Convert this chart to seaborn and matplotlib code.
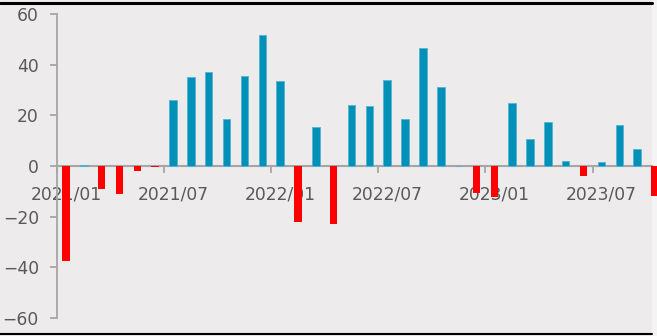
import matplotlib
matplotlib.use("Agg")
import matplotlib.pyplot as plt
from matplotlib.lines import Line2D
from matplotlib.patches import Rectangle
import numpy as np
import pandas as pd
import seaborn as sns

# Monthly values, 2021/01 - 2023/10
months = [
    "2021/01", "2021/02", "2021/03", "2021/04", "2021/05", "2021/06",
    "2021/07", "2021/08", "2021/09", "2021/10", "2021/11", "2021/12",
    "2022/01", "2022/02", "2022/03", "2022/04", "2022/05", "2022/06",
    "2022/07", "2022/08", "2022/09", "2022/10", "2022/11", "2022/12",
    "2023/01", "2023/02", "2023/03", "2023/04", "2023/05", "2023/06",
    "2023/07", "2023/08", "2023/09", "2023/10",
]
values = [
    -37.4, 0.5, -8.9, -11.2, -1.8, -0.5,
    26.1, 35.2, 37.0, 18.6, 35.7, 51.9,
    33.7, -22.3, 15.3, -22.7, 24.1, 23.5,
    34.0, 18.7, 46.6, 31.3, 0.0, -10.7,
    -12.4, 24.9, 10.7, 17.4, 1.8, -4.1,
    1.7, 16.2, 6.8, -12.0,
]
y_ticks = [-60, -40, -20, 0, 20, 40, 60]

BLUE = "#0090B8"
RED = "#FF0000"
BG = "#EDEBEC"
AXIS = "#A6A6A6"
TEXT = "#595959"

df = pd.DataFrame({"month": months, "value": values})
df["sign"] = np.where(df["value"] >= 0, "up", "down")

sns.set_theme(style="white")
plt.rcParams["font.family"] = ["DejaVu Sans"]

W, H = 657, 336
fig = plt.figure(figsize=(W / 100, H / 100), dpi=100, facecolor=BG)
ax = fig.add_axes([57 / W, (H - 318) / H, (652 - 57) / W, (318 - 14) / H])
ax.set_facecolor(BG)

sns.barplot(
    data=df, x="month", y="value", hue="sign",
    palette={"up": BLUE, "down": RED}, dodge=False, saturation=1,
    width=0.42, legend=False, ax=ax, order=months,
)
for p in ax.patches:
    p.set_clip_on(False)
    if p.get_facecolor()[2] > 0.5:
        p.set_edgecolor("#55B4D2")
        p.set_linewidth(0.6)
    else:
        p.set_linewidth(0)

ax.set_ylim(-60, 60)
ax.set_xlim(-0.5, (652 - 57) / 17.85 - 0.5)
ax.set_yticks(y_ticks)
ax.set_yticklabels([str(v).replace("-", "\u2212") for v in y_ticks])
ax.set_xlabel("")
ax.set_ylabel("")

# Category axis: labels every 6 months, tick marks on category boundaries
label_idx = list(range(0, len(months), 6))
ax.set_xticks(label_idx)
ax.set_xticklabels([months[i] for i in label_idx])
ax.set_xticks([i - 0.5 for i in label_idx], minor=True)
ax.tick_params(axis="x", which="major", bottom=True, length=0, pad=14,
               labelsize=12.3, labelcolor=TEXT)
ax.tick_params(axis="x", which="minor", bottom=True, length=5, width=1.3,
               color=AXIS, direction="out")
ax.tick_params(axis="y", left=True, length=5, width=1.3, color=AXIS, pad=8,
               labelsize=12.3, labelcolor=TEXT, direction="out")

for s in ["top", "right"]:
    ax.spines[s].set_visible(False)
ax.spines["left"].set_color(AXIS)
ax.spines["left"].set_linewidth(1.3)
ax.spines["bottom"].set_position(("data", 0))
ax.spines["bottom"].set_color(AXIS)
ax.spines["bottom"].set_linewidth(1.5)
ax.spines["bottom"].set_zorder(0.5)

# Frame lines and right margin strip
fig.add_artist(Rectangle((652 / W, 0), 5 / W, 1, transform=fig.transFigure,
                         facecolor="#F4F4F4", edgecolor="none", zorder=-1))
fig.add_artist(Line2D([0, 652 / W], [1 - 3 / H, 1 - 3 / H],
                      transform=fig.transFigure, color="black", lw=2.2))
fig.add_artist(Line2D([0, 652 / W], [1 - 334 / H, 1 - 334 / H],
                      transform=fig.transFigure, color="black", lw=1.5))

fig.savefig("out.png", dpi=100, facecolor=BG)
